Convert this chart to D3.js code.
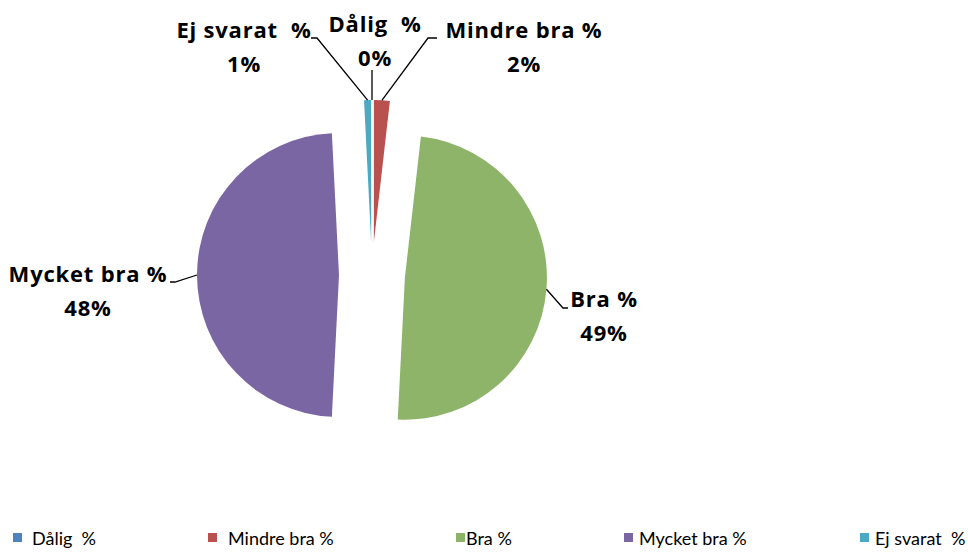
<!DOCTYPE html>
<html><head><meta charset="utf-8">
<script src="https://cdn.jsdelivr.net/npm/d3@7"></script>
<style>body{margin:0;background:#fff}svg{display:block}</style>
</head><body>
<svg id="chart" width="968" height="552"></svg>
<script>
// ---- data ----
const categories = ["Dålig  %", "Mindre bra %", "Bra %", "Mycket bra %", "Ej svarat  %"];
const values = [0, 1.8, 49.0, 48.4, 0.8];
const colors = ["#4F81BD", "#B9514E", "#8DB468", "#7B66A4", "#4AA9C5"];

// ---- layout ----
const W = 968, H = 552;
const cx = 372, cy = 275, R = 142, explode = 33;
const fontLbl = "'Open Sans', sans-serif";
const fontLeg = "Lato, sans-serif";
// label anchor (text center, first baseline) and leader elbow per slice
const labelLayout = [
  {x: 375, y: 32, elbow: null, end: null, vertical: 70},
  {x: 524, y: 38, elbow: [428, 38], end: [437, 38]},
  {x: 604, y: 307, elbow: [563, 308], end: [568, 308]},
  {x: 88, y: 282, elbow: [175, 282], end: [170, 282]},
  {x: 244, y: 38, elbow: [317, 38], end: [311, 38]}
];
const legendSquareX = [13, 208, 456, 624, 860];
const legendTextX = [32, 228, 466, 639, 875];

const svg = d3.select("#chart");
const data = categories.map((c, i) => ({cat: c, value: values[i], color: colors[i]}));
const pie = d3.pie().sort(null).value(d => d.value).startAngle(0).endAngle(2 * Math.PI);
const arcs = pie(data);
const arc = d3.arc().innerRadius(0).outerRadius(R);

const g = svg.append("g").attr("transform", `translate(${cx},${cy})`);
function offset(a) {
  const m = (a.startAngle + a.endAngle) / 2;
  return [explode * Math.sin(m), -explode * Math.cos(m)];
}
g.selectAll("path.slice").data(arcs).join("path")
  .attr("class", "slice")
  .attr("d", arc)
  .attr("fill", d => d.data.color)
  .attr("transform", d => { const o = offset(d); return `translate(${o[0]},${o[1]})`; });

// leader lines and labels
arcs.forEach((a, i) => {
  const m = (a.startAngle + a.endAngle) / 2;
  const o = offset(a);
  const px = cx + o[0] + R * Math.sin(m), py = cy + o[1] - R * Math.cos(m);
  const L = labelLayout[i];
  let pts;
  if (L.elbow) pts = [[px, py], L.elbow, L.end];
  else pts = [[px, py], [px, L.vertical]];
  svg.append("path").attr("d", d3.line()(pts)).attr("fill", "none")
    .attr("stroke", "#000").attr("stroke-width", 1.3);
  const t = svg.append("text").attr("text-anchor", "middle")
    .attr("font-family", fontLbl).attr("font-weight", "bold").attr("font-size", 22)
    .attr("letter-spacing", 0.8).attr("fill", "#000");
  t.append("tspan").attr("x", L.x).attr("y", L.y).text(a.data.cat).style("white-space", "pre");
  t.append("tspan").attr("x", L.x).attr("y", L.y + 34).text(Math.round(a.data.value) + "%");
});

// legend
const leg = svg.append("g");
data.forEach((d, i) => {
  leg.append("rect").attr("x", legendSquareX[i]).attr("y", 533).attr("width", 9).attr("height", 9).attr("fill", d.color);
  leg.append("text").attr("x", legendTextX[i]).attr("y", 545)
    .attr("font-family", fontLeg).attr("font-size", 18).attr("fill", "#000")
    .style("white-space", "pre").text(d.cat);
});
</script>
</body></html>
